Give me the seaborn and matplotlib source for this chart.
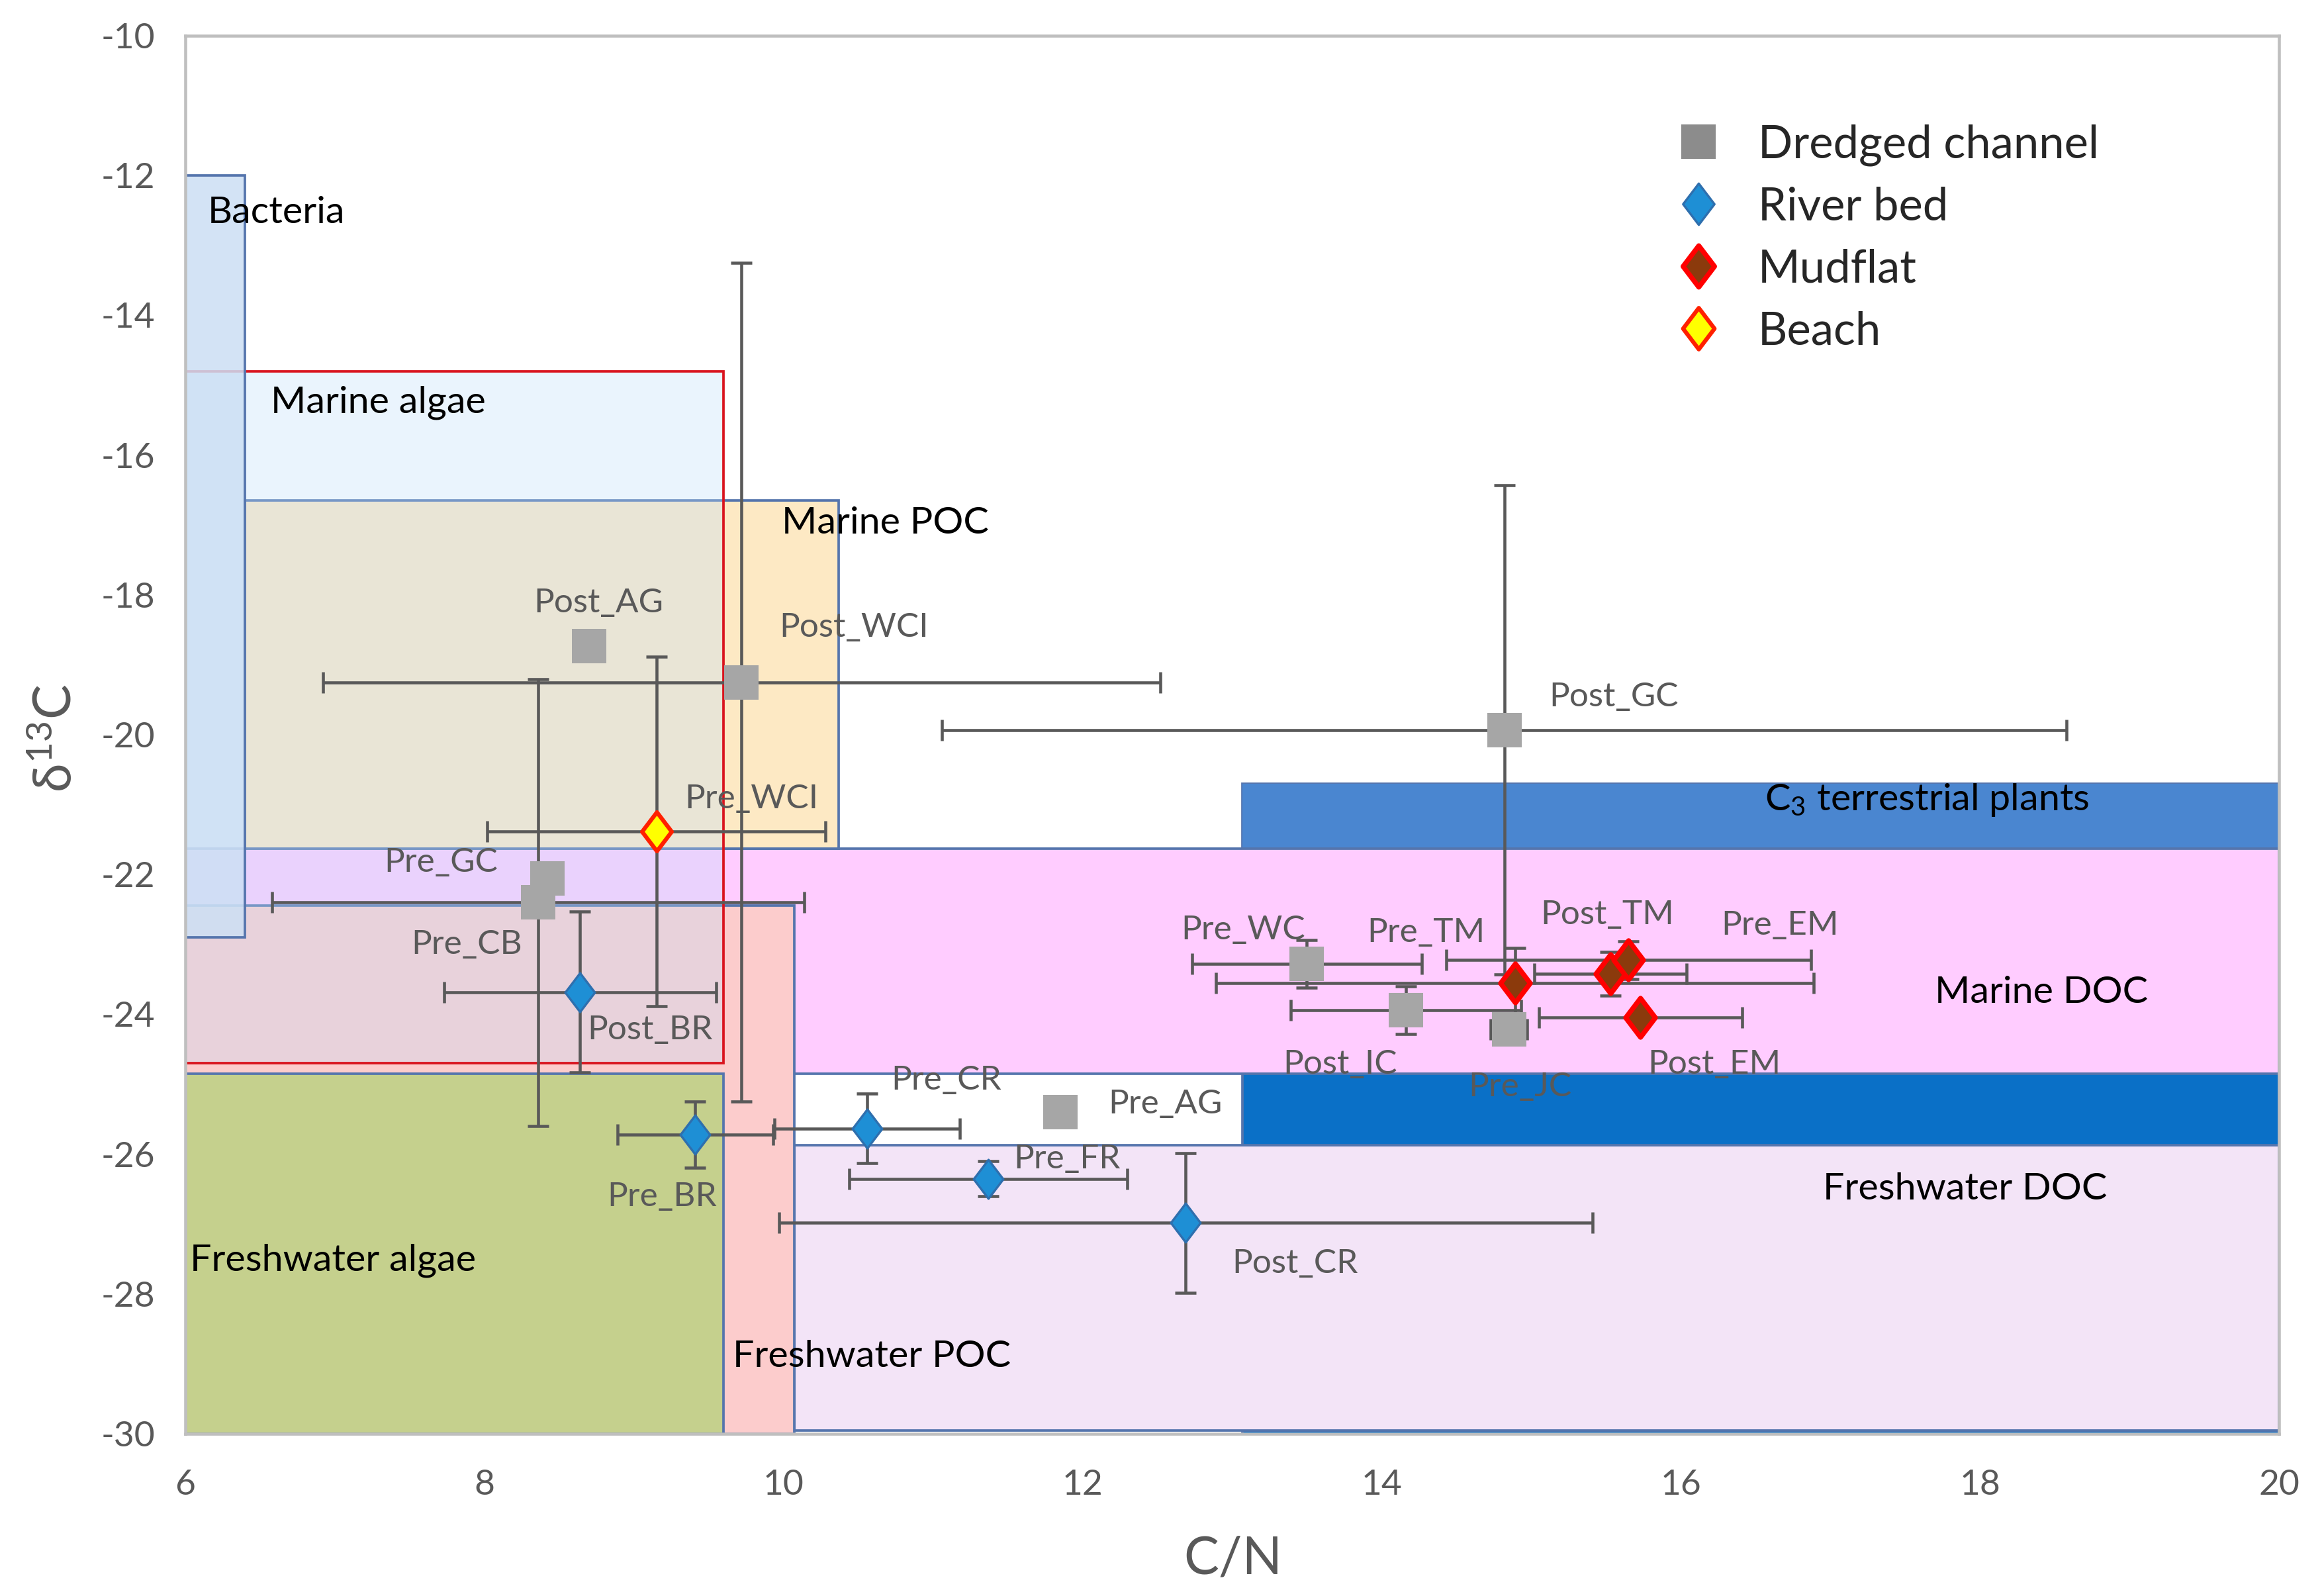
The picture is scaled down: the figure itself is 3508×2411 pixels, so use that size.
import matplotlib
matplotlib.use("Agg")
import matplotlib.pyplot as plt
import seaborn as sns
import pandas as pd
from matplotlib.patches import Rectangle
from matplotlib.path import Path
from matplotlib.lines import Line2D

# ---------------- data ----------------
# source regions: name, C/N min, C/N max, d13C top, d13C bottom
region_names = ["C3 terrestrial plants", "Freshwater DOC", "Marine DOC", "Freshwater POC",
                "Marine POC", "Freshwater algae", "Marine algae", "Bacteria"]
region_x0 = [13.07, 10.07, 6.0, 6.0, 6.4, 6.0, 6.0, 6.0]
region_x1 = [20.0, 20.0, 20.0, 10.07, 10.37, 9.6, 9.6, 6.4]
region_ytop = [-20.7, -25.87, -21.63, -22.44, -16.65, -24.85, -14.8, -12.0]
region_ybot = [-30.0, -29.95, -24.85, -30.0, -21.63, -30.0, -24.7, -22.9]

# Dredged channel
dredged_labels = ["Post_AG", "Post_WCI", "Post_GC", "Pre_GC", "Pre_CB", "Pre_WC", "Post_IC", "Pre_JC", "Pre_AG"]
dredged_cn = [8.70, 9.72, 14.82, 8.42, 8.36, 13.50, 14.16, 14.85, 11.85]
dredged_d13c = [-18.73, -19.25, -19.93, -22.05, -22.40, -23.28, -23.94, -24.21, -25.40]
dredged_cn_err = [0, 2.80, 3.76, 0, 1.78, 0.77, 0.77, 0.12, 0]
dredged_d13c_err = [0, 6.0, 3.5, 0, 3.2, 0.34, 0.34, 0.15, 0]

# River bed
river_labels = ["Post_BR", "Pre_BR", "Pre_CR", "Pre_FR", "Post_CR"]
river_cn = [8.64, 9.41, 10.56, 11.37, 12.69]
river_d13c = [-23.68, -25.72, -25.63, -26.35, -26.98]
river_cn_err = [0.91, 0.52, 0.62, 0.93, 2.72]
river_d13c_err = [1.15, 0.47, 0.50, 0.25, 1.0]

# Mudflat
mud_labels = ["Pre_TM", "Post_TM", "Pre_EM", "Post_EM"]
mud_cn = [14.89, 15.53, 15.65, 15.73]
mud_d13c = [-23.55, -23.42, -23.22, -24.04]
mud_cn_err = [2.0, 0.51, 1.22, 0.68]
mud_d13c_err = [0.5, 0.31, 0.27, 0.0]

# Beach
beach_labels = ["Pre_WCI"]
beach_cn = [9.15]
beach_d13c = [-21.38]
beach_cn_err = [1.13]
beach_d13c_err = [2.5]

x_ticks = [6, 8, 10, 12, 14, 16, 18, 20]
y_ticks = [-10, -12, -14, -16, -18, -20, -22, -24, -26, -28, -30]

# sample label anchor positions (left edge, vertical centre), data units
label_pos = {
    "Post_AG": (8.33, -18.12), "Post_WCI": (9.97, -18.47), "Post_GC": (15.12, -19.46),
    "Pre_WCI": (9.34, -20.92), "Pre_GC": (7.33, -21.83), "Pre_CB": (7.51, -23.0),
    "Post_BR": (8.69, -24.22), "Pre_WC": (12.66, -22.79), "Pre_TM": (13.9, -22.83),
    "Post_TM": (15.06, -22.58), "Pre_EM": (16.27, -22.73), "Post_IC": (13.34, -24.72),
    "Pre_JC": (14.58, -25.04), "Post_EM": (15.78, -24.72), "Pre_CR": (10.72, -24.94),
    "Pre_AG": (12.17, -25.28), "Pre_FR": (11.54, -26.07), "Pre_BR": (8.82, -26.61),
    "Post_CR": (13.0, -27.57),
}
region_label_pos = {
    "Bacteria": (6.15, -12.53), "Marine algae": (6.57, -15.25), "Marine POC": (9.99, -16.97),
    "C3 terrestrial plants": (16.56, -20.93), "Marine DOC": (17.70, -23.69),
    "Freshwater DOC": (16.95, -26.5), "Freshwater algae": (6.03, -27.52),
    "Freshwater POC": (9.66, -28.9),
}

# ---------------- style ----------------
sns.set_style("white")
plt.rcParams["font.family"] = ["Lato", "DejaVu Sans"]
plt.rcParams["mathtext.fontset"] = "custom"
plt.rcParams["mathtext.rm"] = "Lato"
plt.rcParams["mathtext.it"] = "Lato:italic"

region_face = {
    "C3 terrestrial plants": (0.04, 0.44, 0.78, 1.0),
    "Freshwater DOC": (0.953, 0.894, 0.969, 1.0),
    "Marine DOC": (1.0, 0.80, 1.0, 1.0),
    "Freshwater POC": (0.988, 0.80, 0.80, 1.0),
    "Marine POC": (0.992, 0.914, 0.77, 1.0),
    "Freshwater algae": (0.773, 0.816, 0.553, 1.0),
    "Marine algae": (0.76, 0.875, 0.985, 0.33),
    "Bacteria": (0.80, 0.875, 0.955, 0.85),
}
region_edge = {name: "#5575ad" for name in region_names}
region_edge["Marine algae"] = "#d9141e"

fig = plt.figure(figsize=(3508 / 300, 2411 / 300), dpi=300)
ax = fig.add_axes([0.0798, 0.1016, 0.9017, 0.876])

for i, name in enumerate(region_names):
    ax.add_patch(Rectangle((region_x0[i], region_ybot[i]), region_x1[i] - region_x0[i],
                           region_ytop[i] - region_ybot[i], facecolor=region_face[name],
                           edgecolor=region_edge[name], linewidth=0.9, zorder=1 + i * 0.01))
    if name == "C3 terrestrial plants":
        j = region_names.index("Marine DOC")
        ax.add_patch(Rectangle((region_x0[i], region_ytop[j]), region_x1[i] - region_x0[i],
                               region_ytop[i] - region_ytop[j], facecolor="#4a86d0",
                               edgecolor="none", zorder=1.001))

for name, (tx, ty) in region_label_pos.items():
    txt = "C$_{\\mathrm{3}}$ terrestrial plants" if name.startswith("C3") else name
    ax.text(tx, ty, txt, fontsize=13.8, color="black", ha="left", va="center", zorder=6)

# ---------------- points ----------------
diamond = Path([(0, 1), (0.76, 0), (0, -1), (-0.76, 0), (0, 1)],
               [Path.MOVETO, Path.LINETO, Path.LINETO, Path.LINETO, Path.CLOSEPOLY])

groups = [
    ("Dredged channel", dredged_labels, dredged_cn, dredged_d13c, dredged_cn_err, dredged_d13c_err,
     dict(marker="s", color="#a6a6a6", edgecolor="#a6a6a6", linewidth=0, s=150)),
    ("River bed", river_labels, river_cn, river_d13c, river_cn_err, river_d13c_err,
     dict(marker=diamond, color="#1e8fd5", edgecolor="#2e6fae", linewidth=0.8, s=200)),
    ("Mudflat", mud_labels, mud_cn, mud_d13c, mud_cn_err, mud_d13c_err,
     dict(marker=diamond, color="#8b3a0c", edgecolor="#ff0000", linewidth=1.8, s=200)),
    ("Beach", beach_labels, beach_cn, beach_d13c, beach_cn_err, beach_d13c_err,
     dict(marker=diamond, color="#ffff00", edgecolor="#ff2000", linewidth=1.5, s=200)),
]

for gname, labels, xs, ys, xe, ye, kw in groups:
    df = pd.DataFrame({"cn": xs, "d13c": ys, "xe": xe, "ye": ye, "label": labels})
    ex = df[df["xe"] > 0]
    ax.errorbar(ex["cn"], ex["d13c"], xerr=ex["xe"], fmt="none", ecolor="#595959",
                elinewidth=1.1, capsize=3.8, capthick=1.1, zorder=3)
    ey = df[df["ye"] > 0]
    ax.errorbar(ey["cn"], ey["d13c"], yerr=ey["ye"], fmt="none", ecolor="#595959",
                elinewidth=1.1, capsize=3.8, capthick=1.1, zorder=3)
    sns.scatterplot(data=df, x="cn", y="d13c", ax=ax, legend=False, zorder=4, **kw)
    for lab in labels:
        lx, ly = label_pos[lab]
        ax.text(lx, ly, lab, fontsize=12.3, color="#595959", ha="left", va="center", zorder=6)

# ---------------- axes ----------------
ax.set_xlim(6, 20)
ax.set_ylim(-30, -10)
ax.set_xticks(x_ticks)
ax.set_yticks(y_ticks)
ax.set_xticklabels([str(t) for t in x_ticks])
ax.set_yticklabels([str(t) for t in y_ticks])
ax.tick_params(axis="both", length=0, labelsize=12.8, labelcolor="#595959")
ax.tick_params(axis="x", pad=13)
ax.tick_params(axis="y", pad=11)
ax.set_xlabel("")
ax.set_ylabel("")
for sp in ax.spines.values():
    sp.set_color("#bfbfbf")
    sp.set_linewidth(1.1)
    sp.set_zorder(7)

fig.text(0.531, 1 - 2356 / 2411, "C/N", fontsize=19, color="#595959", ha="center", va="center")
fig.text(0.0243, 1 - 1115 / 2411, "δ$^{\\mathrm{13}}$C", fontsize=19, color="#595959",
         ha="center", va="center", rotation=90)

handles = [
    Line2D([], [], linestyle="none", marker="s", markersize=11.5, markerfacecolor="#8c8c8c",
           markeredgecolor="#8c8c8c"),
    Line2D([], [], linestyle="none", marker=diamond, markersize=15, markerfacecolor="#1e8fd5",
           markeredgecolor="#2e6fae", markeredgewidth=0.8),
    Line2D([], [], linestyle="none", marker=diamond, markersize=15, markerfacecolor="#8b3a0c",
           markeredgecolor="#ff0000", markeredgewidth=1.8),
    Line2D([], [], linestyle="none", marker=diamond, markersize=15, markerfacecolor="#ffff00",
           markeredgecolor="#ff2000", markeredgewidth=1.5),
]
ax.legend(handles, [g[0] for g in groups], loc="upper left", bbox_to_anchor=(0.712, 0.937),
          frameon=False, fontsize=16.5, handlelength=1.0, handletextpad=0.8,
          labelspacing=0.45, borderaxespad=0, borderpad=0)

fig.savefig("out.png", dpi=300)
